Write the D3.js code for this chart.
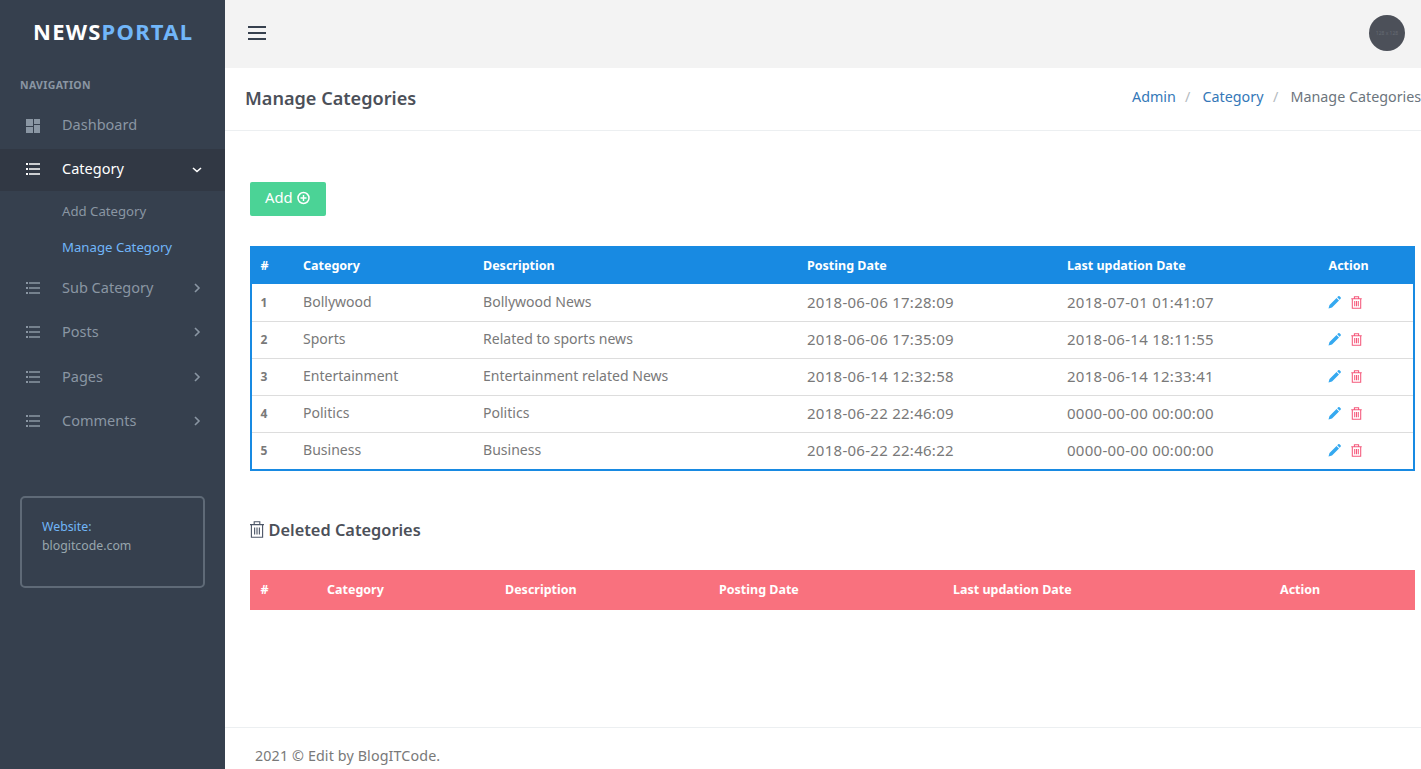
<!doctype html>
<html>
<head>
<meta charset="utf-8">
<script src="https://cdn.jsdelivr.net/npm/d3@7/dist/d3.min.js"></script>
<style>
html, body { margin: 0; padding: 0; background: #fff; overflow: hidden; }
svg { display: block; }
text { font-family: "Noto Sans", sans-serif; }
</style>
</head>
<body>
<script>

// table contents
var columns = ["#", "Category", "Description", "Posting Date", "Last updation Date", "Action"];
var ids = ["1", "2", "3", "4", "5"];
var categories = ["Bollywood", "Sports", "Entertainment", "Politics", "Business"];
var descriptions = ["Bollywood News", "Related to sports news", "Entertainment related News", "Politics", "Business"];
var postingDates = ["2018-06-06 17:28:09", "2018-06-06 17:35:09", "2018-06-14 12:32:58", "2018-06-22 22:46:09", "2018-06-22 22:46:22"];
var updateDates = ["2018-07-01 01:41:07", "2018-06-14 18:11:55", "2018-06-14 12:33:41", "0000-00-00 00:00:00", "0000-00-00 00:00:00"];

// sidebar contents
var navItems = ["Dashboard", "Category", "Add Category", "Manage Category", "Sub Category", "Posts", "Pages", "Comments"];
var crumbs = ["Admin", "/", "Category", "/", "Manage Categories"];

var W = 1421, H = 769;
var svg = d3.select("body").append("svg").attr("width", W).attr("height", H);

function label(g, x, y, str, size, fill, weight, anchor) {
  return g.append("text").attr("x", x).attr("y", y).attr("dy", "0.35em")
    .attr("font-size", size).attr("fill", fill)
    .attr("font-weight", weight || 400)
    .attr("text-anchor", anchor || "start").text(str);
}

// ---- page background
svg.append("rect").attr("x", 225).attr("width", W - 225).attr("height", 68).attr("fill", "#f3f3f3");
svg.append("line").attr("x1", 225).attr("x2", W).attr("y1", 130.5).attr("y2", 130.5).attr("stroke", "#eceff1");
svg.append("line").attr("x1", 225).attr("x2", W).attr("y1", 727.5).attr("y2", 727.5).attr("stroke", "#eceff1");

// ---- sidebar
var side = svg.append("g");
side.append("rect").attr("width", 225).attr("height", H).attr("fill", "#36404e");
side.append("rect").attr("y", 149).attr("width", 225).attr("height", 42).attr("fill", "#313844");

var logo = label(side, 33, 32, "NEWS", 22, "#fff", 700).attr("letter-spacing", 1.25);
logo.append("tspan").attr("fill", "#71b6f9").text("PORTAL");
label(side, 20, 85.5, "NAVIGATION", 10.5, "#8a96a3", 700).attr("letter-spacing", 0.35);

var navY = d3.scaleOrdinal().domain(navItems).range([125, 169, 211.5, 247.5, 288, 332, 377, 421]);
var navColor = d3.scaleOrdinal().domain(navItems)
  .range(["#8a96a3", "#ffffff", "#8a96a3", "#71b6f9", "#8a96a3", "#8a96a3", "#8a96a3", "#8a96a3"]);
var subItems = ["Add Category", "Manage Category"];

function listIcon(g, y, color) {
  [-5, 0, 5].forEach(function(d) {
    g.append("rect").attr("x", 26).attr("y", y + d - 1).attr("width", 2).attr("height", 2).attr("fill", color);
    g.append("rect").attr("x", 29).attr("y", y + d - 0.75).attr("width", 11).attr("height", 1.5).attr("fill", color);
  });
}

navItems.forEach(function(d) {
  var y = navY(d), isSub = subItems.indexOf(d) >= 0;
  label(side, 62, y - 0.5, d, isSub ? 13.2 : 14.5, navColor(d));
  if (isSub) return;
  if (d == "Dashboard") {
    side.append("path").attr("fill", "#8a96a3")
      .attr("d", "M26 119h7v7h-7zM34 119h6v5h-6zM26 127h7v6h-7zM34 125h6v8h-6z");
    return;
  }
  listIcon(side, y, navColor(d));
  var chev = d == "Category" ? "M193 168l4 3.5l4-3.5" : "M195 " + (y - 4) + "l4 4l-4 4";
  side.append("path").attr("d", chev).attr("fill", "none")
    .attr("stroke", d == "Category" ? "#fff" : "#8a96a3").attr("stroke-width", 1.6);
});

side.append("rect").attr("x", 21).attr("y", 497).attr("width", 183).attr("height", 90).attr("rx", 4)
  .attr("fill", "none").attr("stroke", "#5f6a77").attr("stroke-width", 2);
label(side, 42, 526.5, "Website:", 12.3, "#71b6f9");
label(side, 42, 545.5, "blogitcode.com", 12.3, "#98a6ad");

// ---- top bar
var topbar = svg.append("g");
[26, 32, 38].forEach(function(y) {
  topbar.append("rect").attr("x", 248).attr("y", y).attr("width", 18).attr("height", 2).attr("fill", "#36404e");
});
topbar.append("circle").attr("cx", 1387).attr("cy", 33).attr("r", 18).attr("fill", "#4c5059");
label(topbar, 1387, 33, "128 x 128", 5, "#666b74", 400, "middle");

// ---- page title and breadcrumb
label(svg, 245, 98.5, "Manage Categories", 18.1, "#4c5059", 600);
var crumbX = d3.scaleOrdinal().domain(d3.range(crumbs.length)).range([1132, 1185, 1202.5, 1273, 1290.5]);
crumbs.forEach(function(d, i) {
  var color = i == 4 ? "#6c757d" : (i % 2 ? "#b4bac0" : "#3478b8");
  label(svg, crumbX(i), 96.5, d, 14.3, color);
});

// ---- add button
svg.append("rect").attr("x", 250).attr("y", 182).attr("width", 76).attr("height", 34).attr("rx", 2).attr("fill", "#4bd396");
label(svg, 265, 197.5, "Add", 14.8, "#fff");
svg.append("circle").attr("cx", 303.5).attr("cy", 198).attr("r", 5.5).attr("fill", "none").attr("stroke", "#fff").attr("stroke-width", 1.5);
svg.append("path").attr("d", "M300.5 198h6M303.5 195v6").attr("stroke", "#fff").attr("stroke-width", 1.4);

// ---- categories table
var tbl = svg.append("g");
var colX = d3.scaleOrdinal().domain(columns).range([260.5, 303, 483, 807, 1067, 1328.5]);
var rowY = d3.scaleBand().domain(ids).range([284, 469]);

tbl.append("rect").attr("x", 251).attr("y", 247).attr("width", 1163).attr("height", 223)
  .attr("fill", "#fff").attr("stroke", "#188ae2").attr("stroke-width", 2);
tbl.append("rect").attr("x", 250).attr("y", 246).attr("width", 1165).attr("height", 38).attr("fill", "#188ae2");

tbl.selectAll(".head").data(columns).join("text").attr("class", "head")
  .attr("x", function(d) { return colX(d); }).attr("y", 265.5).attr("dy", "0.35em")
  .attr("font-size", 12.5).attr("font-weight", 700).attr("fill", "#fff")
  .text(function(d) { return d; });

tbl.selectAll(".rule").data(ids.slice(0, -1)).join("line").attr("class", "rule")
  .attr("x1", 252).attr("x2", 1413)
  .attr("y1", function(d) { return rowY(d) + rowY.bandwidth() + 0.5; })
  .attr("y2", function(d) { return rowY(d) + rowY.bandwidth() + 0.5; })
  .attr("stroke", "#dddddd");

var rows = tbl.selectAll(".row").data(ids).join("g").attr("class", "row")
  .attr("transform", function(d) { return "translate(0," + (rowY(d) + rowY.bandwidth() / 2) + ")"; });

rows.append("text").attr("x", colX("#")).attr("dy", "0.4em").attr("font-size", 12).attr("font-weight", 700).attr("fill", "#797979")
  .text(function(d) { return d; });

// dates run wider than the names, so they get a bigger size
[[ "Category", categories, 14.05, 0 ], [ "Description", descriptions, 14.05, 0 ], [ "Posting Date", postingDates, 15, 0.27 ], [ "Last updation Date", updateDates, 15, 0.27 ]]
  .forEach(function(c) {
    rows.append("text").attr("x", colX(c[0])).attr("dy", "0.35em").attr("font-size", c[2]).attr("fill", "#797979")
      .attr("letter-spacing", c[3])
      .text(function(d, i) { return c[1][i]; });
  });

// pencil and trash icons
rows.append("path").attr("fill", "#35a9f0")
  .attr("d", "M1328.5 5.5l1 -3.5l7 -7l2.5 2.5l-7 7zM1337.2 -5.7l1 -1a1 1 0 0 1 1.4 0l1 1a1 1 0 0 1 0 1.4l-1 1z")
  .attr("transform", "translate(0,0.5)");
function trash(g, x, y, k, color, sw) {
  g.append("path").attr("fill", "none").attr("stroke", color).attr("stroke-width", sw)
    .attr("transform", "translate(" + x + "," + y + ") scale(" + k + ")")
    .attr("d", "M-5 -3.5h10M-2 -3.5v-2h4v2M-4 -3.5v9h8v-9M-1.7 -1.5v5M0 -1.5v5M1.7 -1.5v5");
}
rows.each(function() { trash(d3.select(this), 1356.5, 0, 1.05, "#f5587b", 1); });

// ---- deleted categories
trash(svg, 257, 529.5, 1.4, "#4c5667", 0.8);
label(svg, 268.5, 530, "Deleted Categories", 16.35, "#4c5059", 600);

var delCols = svg.append("g");
var delX = d3.scaleOrdinal().domain(columns).range([260.5, 327, 505, 719, 953, 1280]);
delCols.append("rect").attr("x", 250).attr("y", 570).attr("width", 1165).attr("height", 40).attr("fill", "#f9717e");
delCols.selectAll("text").data(columns).join("text")
  .attr("x", function(d) { return delX(d); }).attr("y", 589.5).attr("dy", "0.35em")
  .attr("font-size", 12.5).attr("font-weight", 700).attr("fill", "#fff")
  .text(function(d) { return d; });

// ---- footer
label(svg, 255, 756, "2021 © Edit by BlogITCode.", 14.3, "#797979").attr("letter-spacing", 0.12);

</script>
</body>
</html>
